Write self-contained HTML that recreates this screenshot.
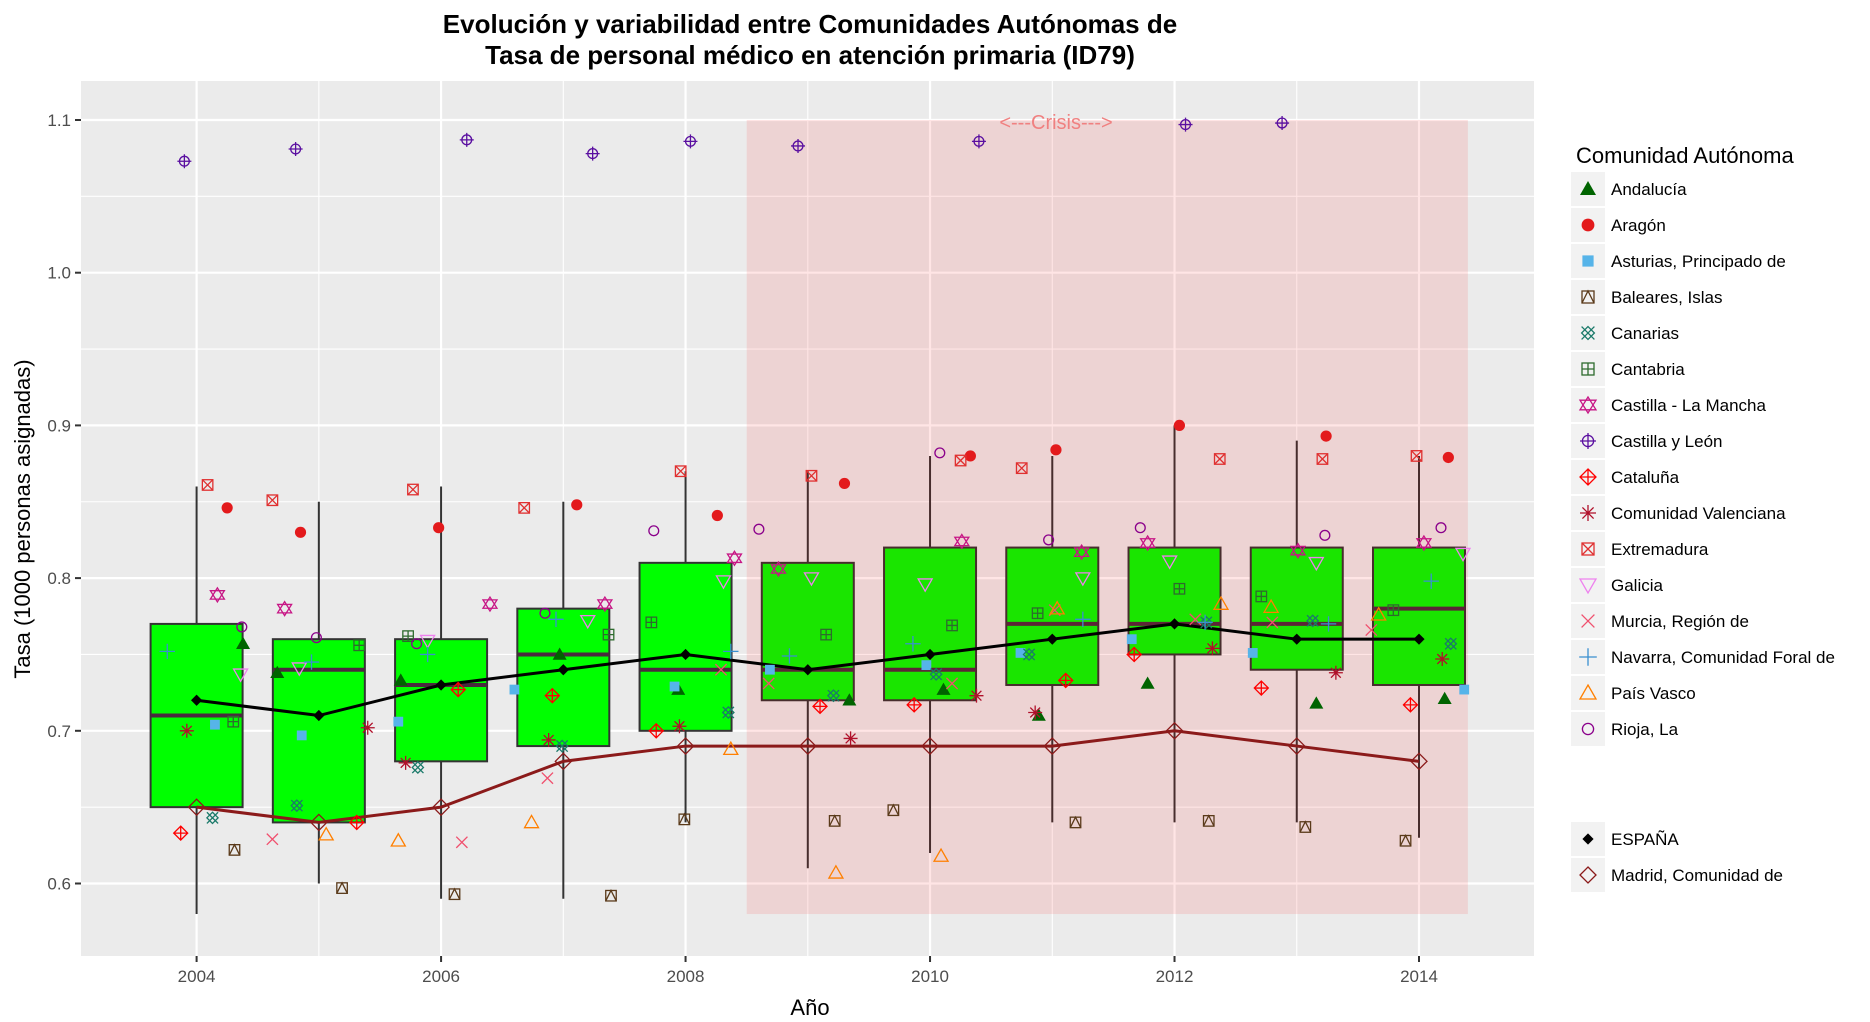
<!DOCTYPE html>
<html><head><meta charset="utf-8">
<style>
body{margin:0;background:#fff;}
svg{display:block;font-family:"Liberation Sans",sans-serif;}
</style></head>
<body>
<svg id="chart" width="1870" height="1022" xmlns="http://www.w3.org/2000/svg">
<text x="810" y="33" text-anchor="middle" font-size="26" font-weight="bold" fill="#000">Evolución y variabilidad entre Comunidades Autónomas de</text>
<text x="810" y="64" text-anchor="middle" font-size="26" font-weight="bold" fill="#000">Tasa de personal médico en atención primaria (ID79)</text>
<rect x="81" y="81" width="1453" height="875" fill="#ebebeb"/>
<g id="grid"></g>
<g id="boxes"></g>
<g id="crisis"></g>
<g id="lines"></g>
<g id="points"></g>
<g id="axes"></g>
<text x="810" y="1015" text-anchor="middle" font-size="22" fill="#000">Año</text>
<text transform="translate(30,519) rotate(-90)" text-anchor="middle" font-size="22" fill="#000">Tasa (1000 personas asignadas)</text>
<g id="legend"></g>
</svg>
<script>
const years=[2004,2005,2006,2007,2008,2009,2010,2011,2012,2013,2014];
const boxLow=[0.58,0.60,0.59,0.59,0.64,0.61,0.62,0.64,0.64,0.64,0.63];
const boxQ1=[0.65,0.64,0.68,0.69,0.70,0.72,0.72,0.73,0.75,0.74,0.73];
const boxMed=[0.71,0.74,0.73,0.75,0.74,0.74,0.74,0.77,0.77,0.77,0.78];
const boxQ3=[0.77,0.76,0.76,0.78,0.81,0.81,0.82,0.82,0.82,0.82,0.82];
const boxHigh=[0.86,0.85,0.86,0.85,0.87,0.87,0.88,0.88,0.90,0.89,0.88];
const espana=[0.72,0.71,0.73,0.74,0.75,0.74,0.75,0.76,0.77,0.76,0.76];
const madrid=[0.65,0.64,0.65,0.68,0.69,0.69,0.69,0.69,0.70,0.69,0.68];
const yTicks=[0.6,0.7,0.8,0.9,1.0,1.1];
const yTickLabels=["0.6","0.7","0.8","0.9","1.0","1.1"];
const xTicks=[2004,2006,2008,2010,2012,2014];
const xTickLabels=["2004","2006","2008","2010","2012","2014"];
const crisisStart=2008.5, crisisEnd=2014.4, crisisTop=1.1, crisisBottom=0.58;
// jittered year / value pairs per community
const andaluciaX=[2004.38,2004.66,2005.67,2006.97,2007.94,2009.34,2010.11,2010.89,2011.78,2013.16,2014.21];
const andaluciaY=[0.757,0.738,0.733,0.75,0.727,0.72,0.727,0.71,0.731,0.718,0.721];
const aragonX=[2004.25,2004.85,2005.98,2007.11,2008.26,2009.30,2010.33,2011.03,2012.04,2013.24,2014.24];
const aragonY=[0.846,0.83,0.833,0.848,0.841,0.862,0.88,0.884,0.9,0.893,0.879];
const asturiasX=[2004.15,2004.86,2005.65,2006.60,2007.91,2008.69,2009.97,2010.74,2011.65,2012.64,2014.37];
const asturiasY=[0.704,0.697,0.706,0.727,0.729,0.74,0.743,0.751,0.76,0.751,0.727];
const balearesX=[2004.31,2005.19,2006.11,2007.39,2007.99,2009.22,2009.70,2011.19,2012.28,2013.07,2013.89];
const balearesY=[0.622,0.597,0.593,0.592,0.642,0.641,0.648,0.64,0.641,0.637,0.628];
const canariasX=[2004.13,2004.82,2005.81,2006.99,2008.35,2009.21,2010.05,2010.81,2012.26,2013.13,2014.26];
const canariasY=[0.643,0.651,0.676,0.69,0.712,0.723,0.737,0.75,0.771,0.772,0.757];
const cantabriaX=[2004.30,2005.33,2005.73,2007.37,2007.72,2009.15,2010.18,2010.88,2012.04,2012.71,2013.79];
const cantabriaY=[0.706,0.756,0.762,0.763,0.771,0.763,0.769,0.777,0.793,0.788,0.779];
const clmX=[2004.17,2004.72,2006.40,2007.34,2008.40,2008.76,2010.26,2011.24,2011.78,2013.01,2014.04];
const clmY=[0.789,0.78,0.783,0.783,0.813,0.806,0.824,0.817,0.823,0.818,0.823];
const cylX=[2003.90,2004.81,2006.21,2007.24,2008.04,2008.92,2010.40,2012.09,2012.88];
const cylY=[1.073,1.081,1.087,1.078,1.086,1.083,1.086,1.097,1.098];
const catX=[2003.87,2005.31,2006.14,2006.91,2007.76,2009.10,2009.87,2011.11,2011.67,2012.71,2013.93];
const catY=[0.633,0.64,0.727,0.723,0.70,0.716,0.717,0.733,0.75,0.728,0.717];
const valX=[2003.92,2005.40,2005.71,2006.88,2007.95,2009.35,2010.38,2010.86,2012.31,2013.32,2014.19];
const valY=[0.70,0.702,0.679,0.694,0.703,0.695,0.723,0.712,0.754,0.738,0.747];
const extX=[2004.09,2004.62,2005.77,2006.68,2007.96,2009.03,2010.25,2010.75,2012.37,2013.21,2013.98];
const extY=[0.861,0.851,0.858,0.846,0.87,0.867,0.877,0.872,0.878,0.878,0.88];
const galX=[2004.36,2004.84,2005.89,2007.20,2008.31,2009.03,2009.96,2011.25,2011.96,2013.16,2014.36];
const galY=[0.737,0.741,0.759,0.772,0.798,0.80,0.796,0.80,0.811,0.81,0.816];
const murX=[2004.62,2006.17,2006.87,2008.29,2008.68,2010.18,2011.02,2012.17,2012.80,2013.61];
const murY=[0.629,0.627,0.669,0.74,0.731,0.731,0.779,0.773,0.771,0.766];
const navX=[2003.76,2004.94,2005.89,2006.94,2008.37,2008.85,2009.86,2011.25,2012.25,2013.26,2014.10];
const navY=[0.752,0.745,0.75,0.773,0.752,0.749,0.757,0.773,0.771,0.77,0.798];
const pvX=[2005.06,2005.65,2006.74,2008.37,2009.23,2010.09,2011.04,2012.38,2012.79,2013.67];
const pvY=[0.632,0.628,0.64,0.688,0.607,0.618,0.78,0.783,0.781,0.776];
const riojaX=[2004.37,2004.98,2005.80,2006.85,2007.74,2008.60,2010.08,2010.97,2011.72,2013.23,2014.18];
const riojaY=[0.768,0.761,0.757,0.777,0.831,0.832,0.882,0.825,0.833,0.828,0.833];

const NS="http://www.w3.org/2000/svg";
const X0=196.6, XS=122.24, Y0=120, YS=1527;
function xs(v){return X0+(v-2004)*XS;}
function ys(v){return Y0+(1.1-v)*YS;}
function mk(tag,attrs,parent){const e=document.createElementNS(NS,tag);for(const k in attrs)e.setAttribute(k,attrs[k]);parent.appendChild(e);return e;}

const grid=document.getElementById('grid');
for(let v=0.55;v<=1.126;v+=0.05){const y=ys(v);if(y<81||y>956)continue;const major=Math.abs(Math.round(v*10)-v*10)<0.01;
 const l=mk('line',{x1:81,x2:1534,y1:y,y2:y,stroke:'#fff','stroke-width':major?2.2:1.1},grid);
 
 }
for(let yr=2003;yr<=2015;yr++){const x=xs(yr);if(x<81||x>1534)continue;
 const l=mk('line',{x1:x,x2:x,y1:81,y2:956,stroke:'#fff','stroke-width':yr%2===0?2.2:1.1},grid);
 
 }

const bx=document.getElementById('boxes');
years.forEach((yr,i)=>{const x=xs(yr),hw=46;
 const g=mk('g',{},bx);
 
 
 mk('line',{x1:x,x2:x,y1:ys(boxHigh[i]),y2:ys(boxQ3[i]),stroke:'#333','stroke-width':2},g);
 mk('line',{x1:x,x2:x,y1:ys(boxQ1[i]),y2:ys(boxLow[i]),stroke:'#333','stroke-width':2},g);
 mk('rect',{x:x-hw,y:ys(boxQ3[i]),width:2*hw,height:ys(boxQ1[i])-ys(boxQ3[i]),fill:'#00ff00',stroke:'#333','stroke-width':2},g);
 mk('line',{x1:x-hw,x2:x+hw,y1:ys(boxMed[i]),y2:ys(boxMed[i]),stroke:'#4a2a3e','stroke-width':4},g);
});

const cr=document.getElementById('crisis');
const crect=mk('rect',{x:xs(crisisStart),y:ys(crisisTop),width:xs(crisisEnd)-xs(crisisStart),height:ys(crisisBottom)-ys(crisisTop),fill:'rgba(255,0,0,0.1)'},cr);


const ct=mk('text',{x:1056,y:129,'text-anchor':'middle','font-size':20,fill:'#f08080'},cr);
ct.textContent='<---Crisis--->';



// shapes
function shape(type,cx,cy,col,p,s){s=s||7;
 const g=mk('g',{fill:'none',stroke:col,'stroke-width':1.3},p);
 switch(type){
 case 'tri':mk('path',{d:`M${cx} ${cy-s}L${cx+s} ${cy+s*0.75}L${cx-s} ${cy+s*0.75}Z`,fill:col,stroke:'none'},g);break;
 case 'dot':mk('circle',{cx,cy,r:s*0.8,fill:col,stroke:'none'},g);break;
 case 'sq':mk('rect',{x:cx-s*0.7,y:cy-s*0.7,width:s*1.4,height:s*1.4,fill:col,stroke:'none'},g);break;
 case 'sqtri':mk('rect',{x:cx-s*0.75,y:cy-s*0.75,width:s*1.5,height:s*1.5},g);mk('path',{d:`M${cx-s*0.75} ${cy+s*0.75}L${cx} ${cy-s*0.75}L${cx+s*0.75} ${cy+s*0.75}`},g);break;
 case 'cxx':mk('path',{d:`M${cx-s*0.8} ${cy-s*0.8}L${cx+s*0.8} ${cy+s*0.8}M${cx+s*0.8} ${cy-s*0.8}L${cx-s*0.8} ${cy+s*0.8}`},g);mk('path',{d:`M${cx} ${cy-s*0.8}L${cx+s*0.8} ${cy}L${cx} ${cy+s*0.8}L${cx-s*0.8} ${cy}Z`},g);break;
 case 'sqplus':mk('rect',{x:cx-s*0.75,y:cy-s*0.75,width:s*1.5,height:s*1.5},g);mk('path',{d:`M${cx} ${cy-s*0.75}V${cy+s*0.75}M${cx-s*0.75} ${cy}H${cx+s*0.75}`},g);break;
 case 'star':mk('path',{d:`M${cx} ${cy-s}L${cx+s} ${cy+s*0.6}L${cx-s} ${cy+s*0.6}ZM${cx} ${cy+s}L${cx+s} ${cy-s*0.6}L${cx-s} ${cy-s*0.6}Z`},g);break;
 case 'cplus':mk('circle',{cx,cy,r:s*0.7},g);mk('path',{d:`M${cx} ${cy-s}V${cy+s}M${cx-s} ${cy}H${cx+s}`},g);break;
 case 'dplus':mk('path',{d:`M${cx} ${cy-s}L${cx+s} ${cy}L${cx} ${cy+s}L${cx-s} ${cy}ZM${cx} ${cy-s}V${cy+s}M${cx-s} ${cy}H${cx+s}`},g);break;
 case 'ast':mk('path',{d:`M${cx} ${cy-s}V${cy+s}M${cx-s} ${cy}H${cx+s}M${cx-s*0.7} ${cy-s*0.7}L${cx+s*0.7} ${cy+s*0.7}M${cx+s*0.7} ${cy-s*0.7}L${cx-s*0.7} ${cy+s*0.7}`},g);break;
 case 'sqx':mk('rect',{x:cx-s*0.75,y:cy-s*0.75,width:s*1.5,height:s*1.5},g);mk('path',{d:`M${cx-s*0.75} ${cy-s*0.75}L${cx+s*0.75} ${cy+s*0.75}M${cx+s*0.75} ${cy-s*0.75}L${cx-s*0.75} ${cy+s*0.75}`},g);break;
 case 'itri':mk('path',{d:`M${cx-s} ${cy-s*0.75}L${cx+s} ${cy-s*0.75}L${cx} ${cy+s}Z`},g);break;
 case 'x':mk('path',{d:`M${cx-s*0.8} ${cy-s*0.8}L${cx+s*0.8} ${cy+s*0.8}M${cx+s*0.8} ${cy-s*0.8}L${cx-s*0.8} ${cy+s*0.8}`},g);break;
 case 'plus':mk('path',{d:`M${cx} ${cy-s*1.1}V${cy+s*1.1}M${cx-s*1.1} ${cy}H${cx+s*1.1}`},g);break;
 case 'otri':mk('path',{d:`M${cx} ${cy-s}L${cx+s} ${cy+s*0.75}L${cx-s} ${cy+s*0.75}Z`},g);break;
 case 'circ':mk('circle',{cx,cy,r:s*0.7},g);break;
 case 'dfill':mk('path',{d:`M${cx} ${cy-s*0.8}L${cx+s*0.8} ${cy}L${cx} ${cy+s*0.8}L${cx-s*0.8} ${cy}Z`,fill:col,stroke:'none'},g);break;
 case 'dopen':mk('path',{d:`M${cx} ${cy-s}L${cx+s} ${cy}L${cx} ${cy+s}L${cx-s} ${cy}Z`},g);break;
 }
 return g;}

const series=[
 ['Andalucía','tri','#006400',andaluciaX,andaluciaY],
 ['Aragón','dot','#e31a1c',aragonX,aragonY],
 ['Asturias, Principado de','sq','#56b4e9',asturiasX,asturiasY],
 ['Baleares, Islas','sqtri','#5a3a1a',balearesX,balearesY],
 ['Canarias','cxx','#1b7a6a',canariasX,canariasY],
 ['Cantabria','sqplus','#2e6b2e',cantabriaX,cantabriaY],
 ['Castilla - La Mancha','star','#c71585',clmX,clmY],
 ['Castilla y León','cplus','#5a0fa0',cylX,cylY],
 ['Cataluña','dplus','#ff0000',catX,catY],
 ['Comunidad Valenciana','ast','#b0102a',valX,valY],
 ['Extremadura','sqx','#e03030',extX,extY],
 ['Galicia','itri','#ee82ee',galX,galY],
 ['Murcia, Región de','x','#f0506e',murX,murY],
 ['Navarra, Comunidad Foral de','plus','#3a8fd0',navX,navY],
 ['País Vasco','otri','#ff7f00',pvX,pvY],
 ['Rioja, La','circ','#8b008b',riojaX,riojaY]
];

const lines=document.getElementById('lines');
function drawLine(vals,col,name,mtype){
 const d=vals.map((v,i)=>(i?'L':'M')+xs(years[i])+' '+ys(v)).join('');
 const p=mk('path',{d,fill:'none',stroke:col,'stroke-width':3},lines);
 
 
 vals.forEach((v,i)=>{const g=shape(mtype,xs(years[i]),ys(v),col,lines,mtype==='dfill'?7:8);
  
  });
}
drawLine(madrid,'#8b1a1a','madrid','dopen');
drawLine(espana,'#000','espana','dfill');

const pts=document.getElementById('points');
series.forEach(s=>{s[3].forEach((xv,i)=>{const g=shape(s[1],xs(xv),ys(s[4][i]),s[2],pts);
 
 });});

const ax=document.getElementById('axes');
yTicks.forEach((v,i)=>{const y=ys(v);
 mk('line',{x1:75,x2:81,y1:y,y2:y,stroke:'#333','stroke-width':2},ax);
 const t=mk('text',{x:71,y:y+6,'text-anchor':'end','font-size':17,fill:'#4d4d4d'},ax);
 t.textContent=yTickLabels[i];
 
 });
xTicks.forEach((v,i)=>{const x=xs(v);
 mk('line',{x1:x,x2:x,y1:956,y2:962,stroke:'#333','stroke-width':2},ax);
 const t=mk('text',{x:x,y:982,'text-anchor':'middle','font-size':17,fill:'#4d4d4d'},ax);
 t.textContent=xTickLabels[i];
 
 });

const lg=document.getElementById('legend');
const lt=mk('text',{x:1576,y:163,'font-size':22,fill:'#000'},lg);
lt.textContent='Comunidad Autónoma';


function legendRow(top,label,type,col){
 const g=mk('g',{},lg);
 
 
 mk('rect',{x:1571,y:top,width:34,height:34,fill:'#f2f2f2'},g);
 shape(type,1588,top+17,col,g,type==='dfill'?7:8);
 const t=mk('text',{x:1611,y:top+23,'font-size':17,fill:'#000'},g);
 t.textContent=label;}
series.forEach((s,i)=>legendRow(172+36*i,s[0],s[1],s[2]));
legendRow(822,'ESPAÑA','dfill','#000');
legendRow(858,'Madrid, Comunidad de','dopen','#8b1a1a');
</script>
</body></html>
